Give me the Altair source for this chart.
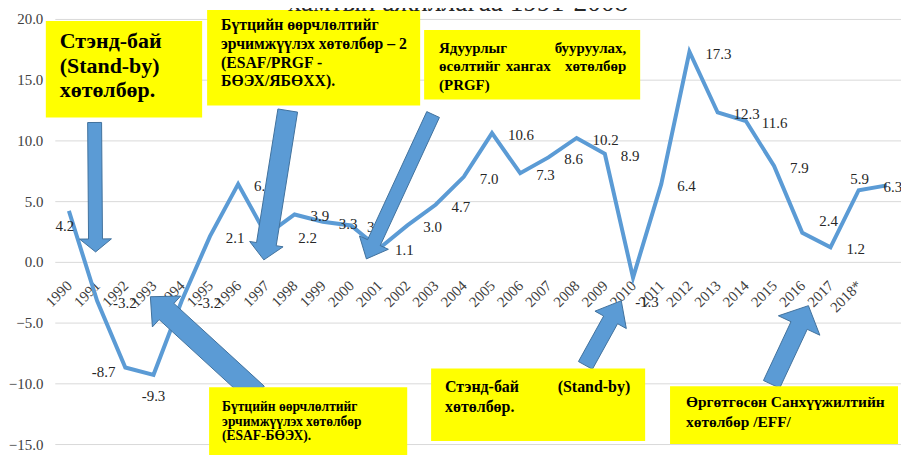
import math
import altair as alt
import pandas as pd

# ---------------- data ----------------
years = ["1990", "1991", "1992", "1993", "1994", "1995", "1996", "1997", "1998", "1999",
         "2000", "2001", "2002", "2003", "2004", "2005", "2006", "2007", "2008", "2009",
         "2010", "2011", "2012", "2013", "2014", "2015", "2016", "2017", "2018*", ""]
growth = [4.2, -3.2, -8.7, -9.3, -3.2, 2.1, 6.4, 2.2, 3.9, 3.3,
          3.0, 1.1, 3.0, 4.7, 7.0, 10.6, 7.3, 8.6, 10.2, 8.9,
          -1.3, 6.4, 17.3, 12.3, 11.6, 7.9, 2.4, 1.2, 5.9, 6.3]
value_labels = ["4.2", "-3.2", "-8.7", "-9.3", "-3.2", "2.1", "6.4", "2.2", "3.9", "3.3",
                "3", "1.1", "3.0", "4.7", "7.0", "10.6", "7.3", "8.6", "10.2", "8.9",
                "-1.3", "6.4", "17.3", "12.3", "11.6", "7.9", "2.4", "1.2", "5.9", "6.3"]
# label placement code for each point (style only)
label_place = ["bl", "r", "l", "b", "r", "r", "r", "r2", "r", "r",
               "r", "r", "r", "r", "r", "r", "r", "r", "r", "r",
               "br", "r", "r", "r", "r", "r", "ru", "r", "a", "c"]
y_ticks = [-15, -10, -5, 0, 5, 10, 15, 20]

title_text = "хамтын ажиллагаа 1991-2008"

# ---------------- layout / style ----------------
W, H = 850, 427
LINE_BLUE = "#5B9BD5"
ARROW_EDGE = "#41719C"
YELLOW = "#FFFF00"
SERIF = "Liberation Serif"
TXT = "#262626"

place_style = {
    "r":  dict(align="left", dx=16, dy=2),
    "r2": dict(align="left", dx=32, dy=3),
    "ru": dict(align="left", dx=17, dy=-12),
    "l":  dict(align="right", dx=-10, dy=5),
    "b":  dict(align="center", dx=0, dy=21),
    "bl": dict(align="center", dx=-4, dy=15),
    "br": dict(align="center", dx=14, dy=24),
    "a":  dict(align="center", dx=1, dy=-11),
    "c":  dict(align="center", dx=6, dy=2),
}

df = pd.DataFrame({"year": years, "growth": growth, "label": value_labels, "place": label_place})

x_enc = alt.X(
    "year:N",
    sort=years,
    scale=alt.Scale(type="point", domain=years, padding=0.5),
    axis=alt.Axis(
        title=None, labelAngle=-45, labelAlign="right", labelBaseline="middle",
        labelPadding=21, ticks=False, domain=False, grid=False, offset=-183,
        labelFont=SERIF, labelFontSize=15, labelColor="#404040",
        labelOverlap=False, labelBound=False, labelFlush=False,
    ),
)
y_enc = alt.Y(
    "growth:Q",
    scale=alt.Scale(domain=[-15, 20], nice=False, zero=False),
    axis=alt.Axis(
        title=None, values=y_ticks, format=".1f", grid=True, gridColor="#d9d9d9",
        gridWidth=1, domain=False, ticks=False, labelPadding=12,
        labelFont=SERIF, labelFontSize=15, labelColor="#404040",
    ),
)

base = alt.Chart(df)
line = base.mark_line(color=LINE_BLUE, strokeWidth=4).encode(x=x_enc, y=y_enc)

label_layers = []
for code, st in place_style.items():
    label_layers.append(
        base.transform_filter(alt.datum.place == code)
        .mark_text(font=SERIF, fontSize=15, color=TXT, baseline="middle", **st)
        .encode(x=alt.X("year:N", sort=years), y="growth:Q", text="label:N")
    )

one = pd.DataFrame({"k": [0]})


def arrow_path(tail, tip, sw, hw, hl):
    tx, ty = tail
    px, py = tip
    dx, dy = px - tx, py - ty
    L = math.hypot(dx, dy)
    ux, uy = dx / L, dy / L
    nx, ny = -uy, ux
    bx, by = px - ux * hl, py - uy * hl
    pts = [
        (tx + nx * sw / 2, ty + ny * sw / 2),
        (bx + nx * sw / 2, by + ny * sw / 2),
        (bx + nx * hw / 2, by + ny * hw / 2),
        (px, py),
        (bx - nx * hw / 2, by - ny * hw / 2),
        (bx - nx * sw / 2, by - ny * sw / 2),
        (tx - nx * sw / 2, ty - ny * sw / 2),
    ]
    return "M" + " L".join(f"{x - tx:.2f},{y - ty:.2f}" for x, y in pts) + " Z"


arrows = [
    ((40, 104), (41, 234), 14, 32, 13),
    ((234, 92), (210, 242), 20, 34, 16),
    ((380, 96), (313, 241), 14, 32, 18),
    ((203, 377), (96, 279), 22, 42, 22),
    ((533, 348), (569, 283), 16, 36, 22),
    ((720, 367), (757, 288), 18, 46, 22),
]
arrow_layers = []
for tail, tip, sw, hw, hl in arrows:
    arrow_layers.append(
        alt.Chart(one).mark_point(
            shape=arrow_path(tail, tip, sw, hw, hl), size=4, filled=True,
            fill=LINE_BLUE, stroke=ARROW_EDGE, strokeWidth=1, opacity=1, fillOpacity=1,
        ).encode(x=alt.value(tail[0]), y=alt.value(tail[1]))
    )

boxes = [
    (-9, 148, 2, 99),
    (153, 367, -9, 87),
    (371, 588, 11, 81),
    (155, 354, 370, 440),
    (378, 593, 351, 424),
    (618, 847, 369, 427),
]
box_layers = [
    alt.Chart(one).mark_rect(color=YELLOW, opacity=1).encode(
        x=alt.value(x1), x2=alt.value(x2), y=alt.value(y1), y2=alt.value(y2))
    for x1, x2, y1, y2 in boxes
]

# (text, x, y, size, align)
box_texts = [
    ("Стэнд-бай", 5, 22, 22, "left"),
    ("(Stand-by)", 5, 47, 22, "left"),
    ("хөтөлбөр.", 5, 71, 22, "left"),
    ("Бүтцийн өөрчлөлтийг", 167, 6, 15.8, "left"),
    ("эрчимжүүлэх хөтөлбөр – 2", 167, 25, 15.8, "left"),
    ("(ESAF/PRGF -", 167, 44, 15.8, "left"),
    ("БӨЭХ/ЯБӨХХ).", 167, 62, 15.8, "left"),
    ("Ядуурлыг", 386, 29, 15, "left"),
    ("бууруулах,", 574, 29, 15, "right"),
    ("өсөлтийг", 386, 47, 15, "left"),
    ("хангах", 453, 47, 15, "left"),
    ("хөтөлбөр", 574, 47, 15, "right"),
    ("(PRGF)", 386, 66, 15, "left"),
    ("Бүтцийн өөрчлөлтийг", 168, 390, 13.6, "left"),
    ("эрчимжүүлэх хөтөлбөр", 168, 405, 13.6, "left"),
    ("(ESAF-БӨЭХ).", 168, 419, 13.6, "left"),
    ("Стэнд-бай", 392, 370, 16, "left"),
    ("(Stand-by)", 578, 370, 16, "right"),
    ("хөтөлбөр.", 392, 390, 16, "left"),
    ("Өргөтгөсөн Санхүүжилтийн", 634, 385, 15.5, "left"),
    ("хөтөлбөр /EFF/", 634, 405, 15.5, "left"),
]
text_layers = [
    alt.Chart(one).mark_text(
        text=t, font=SERIF, fontSize=s, fontWeight="bold", color="#000000",
        align=a, baseline="middle",
    ).encode(x=alt.value(x), y=alt.value(y))
    for t, x, y, s, a in box_texts
]

title_layer = alt.Chart(one).mark_text(
    text=title_text, font=SERIF, fontSize=27.5, color="#262626",
    align="center", baseline="alphabetic",
).encode(x=alt.value(405), y=alt.value(-8))

chart = alt.layer(
    line, *label_layers, *arrow_layers, *box_layers, *text_layers, title_layer
).properties(
    width=W, height=H,
    autosize=alt.AutoSizeParams(type="none"),
    padding={"left": 47, "top": 10, "right": 0, "bottom": 10},
).configure_view(stroke=None)

chart.save("out.html", embed_options={"renderer": "svg", "actions": False})
